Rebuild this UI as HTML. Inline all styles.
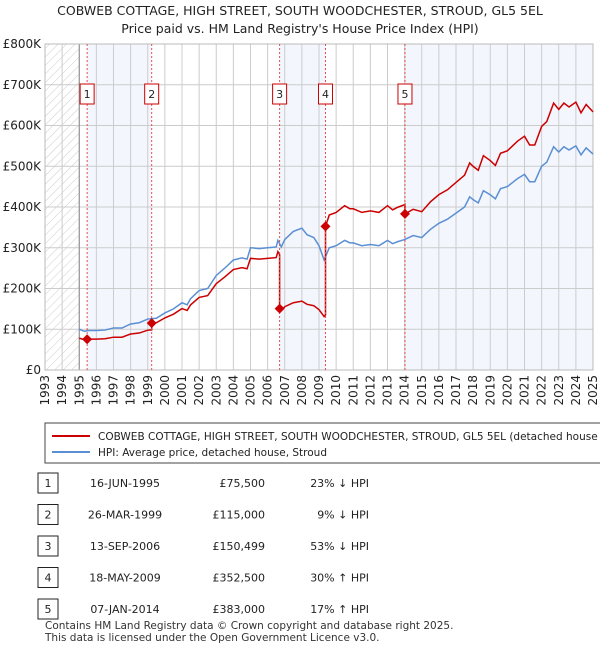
<!DOCTYPE html>
<html><head><meta charset="utf-8"><style>
body{margin:0;background:#fff;font-family:"Liberation Sans","DejaVu Sans",sans-serif;}
svg text{font-family:"DejaVu Sans","Liberation Sans",sans-serif;}
</style></head><body>
<svg id="c" width="600" height="650" viewBox="0 0 600 650">
<defs><pattern id="h" width="6" height="6" patternUnits="userSpaceOnUse" patternTransform="rotate(45)"><line x1="0" y1="0" x2="0" y2="6" stroke="#ccc" stroke-width="1"/></pattern></defs>
<text x="300" y="15" text-anchor="middle" font-size="12.5" fill="#222">COBWEB COTTAGE, HIGH STREET, SOUTH WOODCHESTER, STROUD, GL5 5EL</text>
<text x="300" y="33" text-anchor="middle" font-size="12.5" fill="#222">Price paid vs. HM Land Registry's House Price Index (HPI)</text>
<g id="plot"></g>
<rect x="45" y="423" width="560" height="40" fill="#fff" stroke="#444"/>
<line x1="52" y1="436" x2="90" y2="436" stroke="#cc0000" stroke-width="2"/>
<text x="98" y="440" font-size="10.5" fill="#222">COBWEB COTTAGE, HIGH STREET, SOUTH WOODCHESTER, STROUD, GL5 5EL (detached house</text>
<line x1="52" y1="452" x2="90" y2="452" stroke="#5b8fd4" stroke-width="2"/>
<text x="98" y="456" font-size="10.5" fill="#222">HPI: Average price, detached house, Stroud</text>
<g id="tbl"></g>
<text x="45" y="629" font-size="10.5" fill="#333">Contains HM Land Registry data © Crown copyright and database right 2025.</text>
<text x="45" y="641" font-size="10.5" fill="#333">This data is licensed under the Open Government Licence v3.0.</text>
</svg>
<script>
const hpiYears=[1995,1995.3,1995.5,1996,1996.5,1997,1997.5,1998,1998.5,1999,1999.5,2000,2000.5,2001,2001.3,2001.5,2002,2002.5,2003,2003.5,2004,2004.5,2004.8,2005,2005.5,2006,2006.5,2006.6,2006.8,2007,2007.5,2008,2008.3,2008.7,2009,2009.3,2009.6,2010,2010.5,2010.8,2011,2011.5,2012,2012.5,2013,2013.3,2013.6,2014,2014.5,2015,2015.5,2016,2016.5,2017,2017.5,2017.8,2018,2018.3,2018.6,2019,2019.3,2019.6,2020,2020.3,2020.6,2021,2021.3,2021.6,2022,2022.3,2022.7,2023,2023.3,2023.6,2024,2024.3,2024.6,2025];
const hpiValues=[100,95,97,97,98,103,103,113,116,125,127,140,150,165,160,175,195,200,232,250,270,275,272,300,298,300,302,318,302,320,340,348,332,325,305,270,300,305,318,312,312,305,308,305,318,310,315,320,330,325,345,360,370,385,400,425,418,410,440,430,420,445,450,460,470,480,462,462,500,510,548,535,548,540,550,528,545,530];
const saleYears=[1995.46,1999.23,2006.70,2009.38,2014.02];
const salePrices=[75500,115000,150499,352500,383000];
const saleDates=["16-JUN-1995","26-MAR-1999","13-SEP-2006","18-MAY-2009","07-JAN-2014"];
const salePriceLabels=["£75,500","£115,000","£150,499","£352,500","£383,000"];
const salePctLabels=["23% ↓ HPI","9% ↓ HPI","53% ↓ HPI","30% ↑ HPI","17% ↑ HPI"];
const yTicks=[0,100,200,300,400,500,600,700,800];
const NS="http://www.w3.org/2000/svg";
const X0=45,X1=593,Y0=370,Y1=44;
const xs=y=>X0+(y-1993)/(2025-1993)*(X1-X0);
const ys=v=>Y0-v/800*(Y0-Y1);
function mk(t,a,p){const e=document.createElementNS(NS,t);for(const k in a)e.setAttribute(k,a[k]);p.appendChild(e);return e;}
function hpiAt(t){for(let i=0;i<hpiYears.length-1;i++){if(t<=hpiYears[i+1]){const f=(t-hpiYears[i])/(hpiYears[i+1]-hpiYears[i]);return hpiValues[i]+f*(hpiValues[i+1]-hpiValues[i]);}}return hpiValues[hpiValues.length-1];}
const g=document.getElementById('plot');
const hatch=mk('rect',{x:X0,y:Y1,width:xs(1995)-X0,height:Y0-Y1,fill:'url(#h)'},g);


const shades=[[0,1],[2,3],[4,null]];
shades.forEach(s=>{const a=xs(saleYears[s[0]]),b=s[1]===null?X1:xs(saleYears[s[1]]);const r=mk('rect',{x:a,y:Y1,width:b-a,height:Y0-Y1,fill:'#f3f6fd'},g);

});
for(let y=1993;y<=2025;y++){const l=mk('line',{x1:xs(y),x2:xs(y),y1:Y1,y2:Y0,stroke:'#ccc','stroke-width':1},g);


const t=mk('text',{x:0,y:0,'font-size':12,fill:'#222','text-anchor':'end',transform:`translate(${xs(y)+4},${Y0+5}) rotate(-90)`},g);t.textContent=y;

}
yTicks.forEach(v=>{const l=mk('line',{x1:X0,x2:X1,y1:ys(v),y2:ys(v),stroke:'#ccc','stroke-width':1},g);


const t=mk('text',{x:41,y:ys(v)+4,'font-size':12,fill:'#222','text-anchor':'end'},g);t.textContent=v===0?'£0':'£'+v+'K';

});
const ax=mk('line',{x1:xs(1995),x2:xs(1995),y1:Y1,y2:Y0,stroke:'#888'},g);


const fr=mk('rect',{x:X0,y:Y1,width:X1-X0,height:Y0-Y1,fill:'none',stroke:'#bbb'},g);


const hp=mk('polyline',{points:hpiYears.map((y,i)=>xs(y)+','+ys(hpiValues[i])).join(' '),fill:'none',stroke:'#5b8fd4','stroke-width':1.5},g);


let pts=[];
saleYears.forEach((sy,i)=>{const ratio=salePrices[i]/1000/hpiAt(sy);const start=i===0?1995:sy;const end=i<saleYears.length-1?saleYears[i+1]:2025;
const ts=[start,...hpiYears.filter(y=>y>start&&y<end),end];ts.forEach(t=>pts.push(xs(t)+','+ys(hpiAt(t)*ratio)));});
const pl=mk('polyline',{points:pts.join(' '),fill:'none',stroke:'#cc0000','stroke-width':1.5},g);


saleYears.forEach((sy,i)=>{const x=xs(sy);
const vl=mk('line',{x1:x,x2:x,y1:Y1,y2:Y0,stroke:'#e05050','stroke-width':1,'stroke-dasharray':'2,2'},g);


const y=ys(salePrices[i]/1000);
const d=mk('path',{d:`M${x} ${y-5}L${x+5} ${y}L${x} ${y+5}L${x-5} ${y}Z`,fill:'#cc0000'},g);


const b=mk('rect',{x:x-7,y:84,width:14,height:20,fill:'#fff',stroke:'#cc0000'},g);


const t=mk('text',{x:x,y:98,'font-size':11,'text-anchor':'middle',fill:'#222'},g);t.textContent=i+1;

});
const tb=document.getElementById('tbl');
saleYears.forEach((sy,i)=>{const y=483+i*31.5;
const b=mk('rect',{x:38,y:y-10,width:20,height:20,fill:'#fff',stroke:'#222'},tb);


const n=mk('text',{x:48,y:y+4,'font-size':11,'text-anchor':'middle',fill:'#222'},tb);n.textContent=i+1;


const d=mk('text',{x:125,y:y+4,'font-size':11,'text-anchor':'middle',fill:'#222'},tb);d.textContent=saleDates[i];


const p=mk('text',{x:265,y:y+4,'font-size':11,'text-anchor':'end',fill:'#222'},tb);p.textContent=salePriceLabels[i];


const c=mk('text',{x:369,y:y+4,'font-size':11,'text-anchor':'end',fill:'#222'},tb);c.textContent=salePctLabels[i];

});
</script>
</body></html>
